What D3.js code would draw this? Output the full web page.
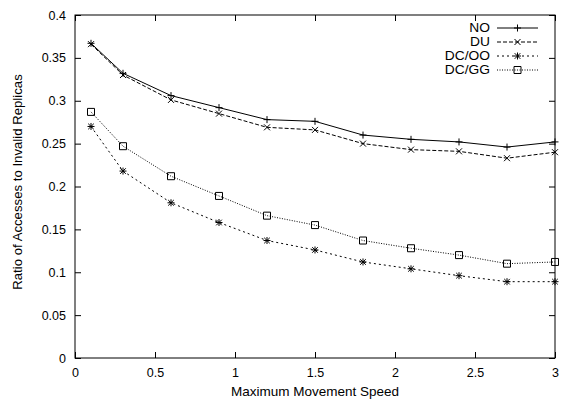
<!DOCTYPE html>
<html lang="en">
<head>
   <meta charset="utf-8">
   <title>Ratio of Accesses to Invalid Replicas</title>
   <script src="https://cdn.jsdelivr.net/npm/d3@7"></script>
   <style type="text/css">
      body { margin: 0; background: #fff; }
      svg text { font-family: "Liberation Sans", Arial, sans-serif; fill: #000; }
      .axis line { stroke: #000; }
   </style>
</head>
<body>
   <script type="text/javascript">

      // data
      var speed = [0.1, 0.3, 0.6, 0.9, 1.2, 1.5, 1.8, 2.1, 2.4, 2.7, 3.0];
      var seriesNames = ["NO", "DU", "DC/OO", "DC/GG"];
      var no   = [0.367, 0.332, 0.306, 0.292, 0.278, 0.276, 0.260, 0.255, 0.252, 0.246, 0.252];
      var du   = [0.366, 0.330, 0.301, 0.285, 0.269, 0.266, 0.250, 0.243, 0.241, 0.233, 0.240];
      var dcoo = [0.270, 0.218, 0.181, 0.158, 0.137, 0.126, 0.112, 0.104, 0.096, 0.089, 0.089];
      var dcgg = [0.287, 0.247, 0.212, 0.189, 0.166, 0.155, 0.137, 0.128, 0.120, 0.110, 0.112];
      var xTicks = [0, 0.5, 1, 1.5, 2, 2.5, 3];
      var yTicks = [0, 0.05, 0.1, 0.15, 0.2, 0.25, 0.3, 0.35, 0.4];

      var w = 566;
      var h = 402;
      var margin = {top: 15, right: 11, bottom: 44, left: 75};

      var xScale = d3.scaleLinear()
                     .domain([0, 3])
                     .range([margin.left, w - margin.right]);

      var yScale = d3.scaleLinear()
                     .domain([0, 0.4])
                     .range([h - margin.bottom, margin.top]);

      var fmt = function(d) { return String(+d.toFixed(2)); };

      var svg = d3.select("body")
                  .append("svg")
                  .attr("width", w)
                  .attr("height", h);

      // ticks point inwards on all four sides, gnuplot style
      svg.append("g")
         .attr("class", "axis")
         .attr("transform", "translate(0," + yScale(0) + ")")
         .call(d3.axisBottom(xScale).tickValues(xTicks).tickFormat(fmt)
                 .tickSize(-6).tickSizeOuter(0).tickPadding(10))
         .call(function(g) { g.select(".domain").remove(); })
         .selectAll("text").attr("font-size", "12.5px");

      svg.append("g")
         .attr("class", "axis")
         .attr("transform", "translate(0," + yScale(0.4) + ")")
         .call(d3.axisTop(xScale).tickValues(xTicks).tickFormat("")
                 .tickSize(-6).tickSizeOuter(0))
         .call(function(g) { g.select(".domain").remove(); });

      svg.append("g")
         .attr("class", "axis")
         .attr("transform", "translate(" + xScale(0) + ",0)")
         .call(d3.axisLeft(yScale).tickValues(yTicks).tickFormat(fmt)
                 .tickSize(-6).tickSizeOuter(0).tickPadding(9))
         .call(function(g) { g.select(".domain").remove(); })
         .selectAll("text").attr("font-size", "12.5px");

      svg.append("g")
         .attr("class", "axis")
         .attr("transform", "translate(" + xScale(3) + ",0)")
         .call(d3.axisRight(yScale).tickValues(yTicks).tickFormat("")
                 .tickSize(-6).tickSizeOuter(0))
         .call(function(g) { g.select(".domain").remove(); });

      // frame
      svg.append("rect")
         .attr("x", xScale(0))
         .attr("y", yScale(0.4))
         .attr("width", xScale(3) - xScale(0))
         .attr("height", yScale(0) - yScale(0.4))
         .attr("fill", "none")
         .attr("stroke", "#000")
         .attr("stroke-width", 1);

      // axis labels
      svg.append("text")
         .attr("x", (xScale(0) + xScale(3)) / 2)
         .attr("y", 396)
         .attr("text-anchor", "middle")
         .attr("font-size", "13.5px")
         .text("Maximum Movement Speed");

      svg.append("text")
         .attr("transform", "translate(22," + 182 + ") rotate(-90)")
         .attr("text-anchor", "middle")
         .attr("font-size", "13.2px")
         .text("Ratio of Accesses to Invalid Replicas");

      var dashes = ["none", "4,2", "2,3", "1,1.5"];
      var markers = [
         "M-3.5,0H3.5M0,-3.5V3.5",
         "M-3,-3L3,3M-3,3L3,-3",
         "M-3.5,0H3.5M0,-3.5V3.5M-2.8,-2.8L2.8,2.8M-2.8,2.8L2.8,-2.8",
         "M-3.5,-3.5H3.5V3.5H-3.5Z"
      ];
      var allValues = [no, du, dcoo, dcgg];

      var line = d3.line()
                   .x(function(d) { return xScale(d[0]); })
                   .y(function(d) { return yScale(d[1]); });

      allValues.forEach(function(vals, i) {
         var pts = speed.map(function(s, j) { return [s, vals[j]]; });

         svg.append("path")
            .datum(pts)
            .attr("d", line)
            .attr("fill", "none")
            .attr("stroke", "#000")
            .attr("stroke-width", 1)
            .attr("stroke-dasharray", dashes[i]);

         svg.selectAll(".m" + i)
            .data(pts)
            .enter()
            .append("path")
            .attr("class", "m" + i)
            .attr("transform", function(d) {
               return "translate(" + xScale(d[0]) + "," + yScale(d[1]) + ")";
            })
            .attr("d", markers[i])
            .attr("fill", "none")
            .attr("stroke", "#000")
            .attr("stroke-width", 1);
      });

      // legend (text is a little wider than tall in the original)
      var legend = svg.append("g")
                      .attr("transform", "translate(490,28)");

      seriesNames.forEach(function(name, i) {
         var row = legend.append("g")
                         .attr("transform", "translate(0," + (i * 14) + ")");
         row.append("g")
            .attr("transform", "scale(1.15,1)")
            .append("text")
            .attr("x", 0)
            .attr("y", 0)
            .attr("dy", "0.36em")
            .attr("text-anchor", "end")
            .attr("font-size", "12px")
            .text(name);
         row.append("line")
            .attr("x1", 7)
            .attr("x2", 48)
            .attr("y1", 0)
            .attr("y2", 0)
            .attr("stroke", "#000")
            .attr("stroke-width", 1)
            .attr("stroke-dasharray", dashes[i]);
         row.append("path")
            .attr("transform", "translate(27.5,0)")
            .attr("d", markers[i])
            .attr("fill", "none")
            .attr("stroke", "#000")
            .attr("stroke-width", 1);
      });
   </script>
</body>
</html>
